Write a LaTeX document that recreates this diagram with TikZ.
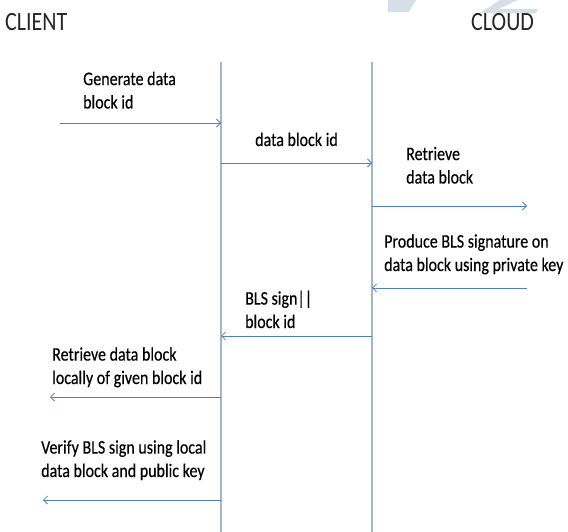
\documentclass[tikz,border=0pt]{standalone}
\usepackage{fontspec}
\setmainfont{Carlito}
\newfontfamily\lblfont[FakeBold=0.35]{Carlito}
\usetikzlibrary{arrows.meta}
\definecolor{arrowblue}{HTML}{4F81BD}
\definecolor{lifeblue}{HTML}{A3B6CE}
\definecolor{wmark}{HTML}{D6DFE4}
\tikzset{
  msg/.style={draw=arrowblue, line width=0.8pt, -{Straight Barb[length=4pt,width=8pt,line width=0.8pt]}},
  life/.style={draw=lifeblue, line width=1.1pt},
  lbl/.style={anchor=base west, inner sep=0pt, align=left, yscale=1.2, transform shape,
    font=\lblfont\fontsize{16}{19.5}\selectfont, text=black},
  actor/.style={anchor=base west, inner sep=0pt, yscale=1.2, transform shape,
    font=\fontsize{22}{26}\selectfont, text=black!85}
}
\begin{document}
\begin{tikzpicture}[x=1pt,y=-1pt]
\useasboundingbox (0,0) rectangle (568,532);
% watermark remnants
\fill[wmark] (388,0) -- (416,0) -- (409,12) -- (388,12) -- cycle;
\fill[wmark] (500,0) -- (518,0) -- (498,9) -- (538,9) -- (536,13) -- (480,13) -- cycle;
% actors
\node[actor] (client) at (5,31) {CLIENT};
\node[actor] (cloud) at (471,31) {CLOUD};
% lifeline coordinates
\coordinate (ct) at (221,62);
\coordinate (cb) at (221,532);
\coordinate (st) at (372,62);
\coordinate (sb) at (372,532);
\draw[life] (ct) -- (cb);
\draw[life] (st) -- (sb);
% message end points
\coordinate (a1s) at (60,123);   \coordinate (a1e) at (221,123);
\coordinate (a2s) at (221,163);  \coordinate (a2e) at (372,163);
\coordinate (a3s) at (372,206);  \coordinate (a3e) at (527,206);
\coordinate (a4s) at (527,288);  \coordinate (a4e) at (372,288);
\coordinate (a5s) at (372,336);  \coordinate (a5e) at (221,336);
\coordinate (a6s) at (221,397);  \coordinate (a6e) at (50,397);
\coordinate (a7s) at (221,500);  \coordinate (a7e) at (43,500);
\draw[msg] (a1s) -- (a1e);
\draw[msg] (a2s) -- (a2e);
\draw[msg] (a3s) -- (a3e);
\draw[msg] (a4s) -- (a4e);
\draw[msg] (a5s) -- (a5e);
\draw[msg] (a6s) -- (a6e);
\draw[msg] (a7s) -- (a7e);
% labels (base anchor = baseline of the last line)
\node[lbl] (l1) at (83,108.5) {Generate data\\block id};
\node[lbl] (l2) at (255,146) {data block id};
\node[lbl] (l3) at (406,183.5) {Retrieve\\data block};
\node[lbl] (l4) at (384,271) {Produce BLS signature on\\data block using private key};
\node[lbl] (l5) at (245,328) {BLS sign||\\block id};
\node[lbl] (l6) at (52,384) {Retrieve data block\\locally of given block id};
\node[lbl] (l7) at (41,477) {Verify BLS sign using local\\data block and public key};
\end{tikzpicture}
\end{document}
